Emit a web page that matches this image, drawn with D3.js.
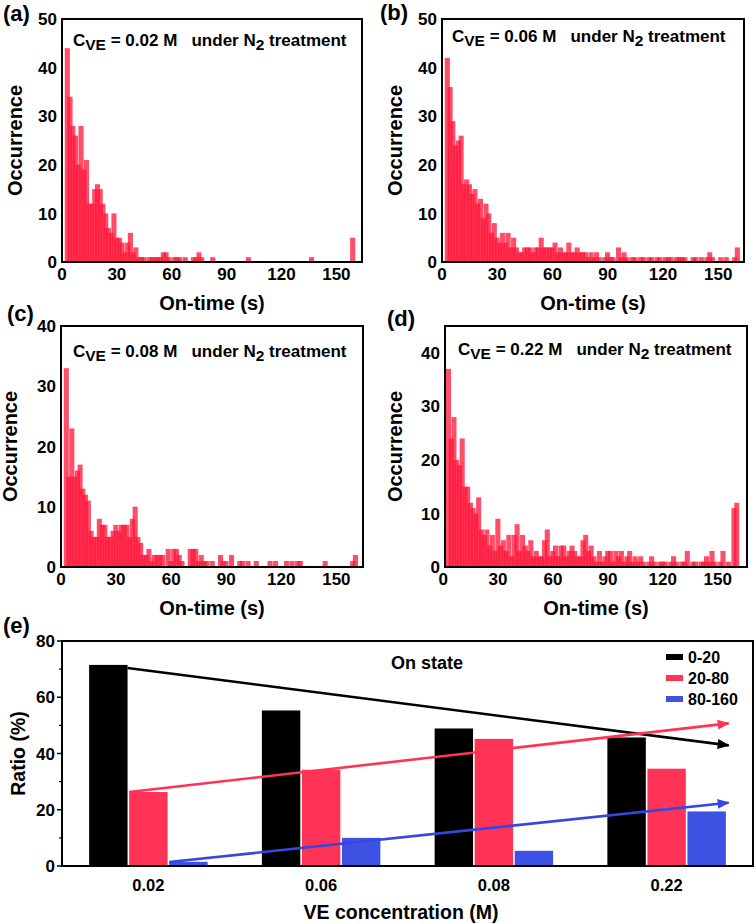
<!DOCTYPE html>
<html><head><meta charset="utf-8">
<script src="https://cdn.jsdelivr.net/npm/d3@7/dist/d3.min.js"></script>
<style>
body{margin:0;background:#fff}
svg text{font-family:"Liberation Sans",Arial,sans-serif;font-weight:bold;fill:#000}
</style></head><body>
<svg id="chart" width="756" height="924"></svg>
<script>
// ---------- DATA ----------
const binStart = 1.5, binWidth = 1.5;   // on-time bins (s)
const countsA = [44,34,28,26,20,28,19,21,12,12, 15,16,15,12,10,7,6,10,5,5, 4,2,4,6,2,3,1,1,1,0,
  1,1,1,1,1,2,2,1,0,1, 1,1,0,1,0,0,1,1,2,1, 0,0,0,1,0,0,0,0,0,0, 0,0,0,0,0,0,1,0,0,0,
  0,0,0,0,0,0,0,0,0,0, 0,0,0,0,0,0,0,0,0,1, 0,0,0,0,0,0,0,0,0,0, 0,0,0,0,5,0];
const countsB = [42,36,29,24,25,26,16,17,16,14, 15,12,13,9,12,10,6,8,5,4, 6,4,6,3,5,3,2,2,3,3,
  3,2,3,3,5,3,3,3,3,4, 2,3,2,2,4,2,2,3,2,2, 2,1,2,1,2,1,0,1,2,1, 1,0,3,1,2,1,0,1,1,0,
  1,1,0,1,1,0,1,1,0,1, 1,1,0,1,1,1,1,0,0,1, 1,0,1,0,1,2,1,0,0,1, 0,1,0,0,1,3];
const countsC = [33,15,23,15,16,17,13,12,11,6, 5,5,8,7,7,5,5,6,7,6, 7,7,7,5,8,10,5,4,2,2,
  3,1,2,2,2,2,0,3,1,3, 3,2,1,0,0,3,3,3,1,2, 1,1,0,1,0,0,2,1,1,0, 2,0,0,1,1,0,1,0,0,1,
  0,0,0,0,1,0,1,0,0,0, 1,0,1,0,1,1,0,0,0,0, 0,0,0,0,1,0,0,0,0,0, 0,0,0,0,1,2];
const countsD = [37,24,28,20,19,24,15,15,12,11, 10,13,7,6,7,4,6,3,9,4, 5,3,6,2,6,8,3,6,4,3,
  5,2,3,2,2,5,7,2,3,4, 2,4,4,2,3,4,3,2,2,5, 6,3,4,2,1,3,1,2,3,3, 1,3,2,3,1,2,3,1,2,1,
  2,1,0,1,2,1,0,1,1,1, 0,1,2,1,0,1,1,3,0,1, 1,0,1,1,2,1,3,1,0,1, 3,0,1,0,11,12];
const panelLetters = ["(a)","(b)","(c)","(d)"];
const concLabels = ["0.02","0.06","0.08","0.22"];
const onTimeTicks = [0,30,60,90,120,150];
const occTicksAB = [0,10,20,30,40,50];
const occTicksCD = [0,10,20,30,40];
const occMax = [50,50,40,45];

const rangeNames = ["0-20","20-80","80-160"];
const ratio0_20 = [71.5,55.3,48.9,45.7];
const ratio20_80 = [26.3,34.2,45.2,34.6];
const ratio80_160 = [1.5,10.0,5.4,19.4];
const trendStart = [70.4,26.3,1.4];
const trendEnd = [42.9,50.7,22.5];
const ratioTicks = [0,20,40,60,80];
const ratioMinor = [10,30,50,70];

// ---------- LAYOUT ----------
const svg = d3.select("#chart");
const panels = [
  {counts:countsA, conc:0, ticks:occTicksAB, xDom:[0,164], l:62, r:362, t:19, b:262, lx:3, ly:21, hx:73, hy:46, ox:22},
  {counts:countsB, conc:1, ticks:occTicksAB, xDom:[0,164], l:442, r:744, t:19, b:262, lx:380, ly:20, hx:452, hy:42, ox:402},
  {counts:countsC, conc:2, ticks:occTicksCD, xDom:[0,164.5], l:61, r:363, t:326, b:567, lx:7, ly:321, hx:73, hy:357, ox:17},
  {counts:countsD, conc:3, ticks:occTicksCD, xDom:[1,166], l:445, r:747, t:326, b:567, lx:387, ly:326, hx:458, hy:355, ox:402}
];

panels.forEach((p,pi)=>{
  const x = d3.scaleLinear().domain(p.xDom).range([p.l,p.r]);
  const y = d3.scaleLinear().domain([0,occMax[pi]]).range([p.b,p.t]);
  const g = svg.append("g");
  const cid = "clip"+pi;
  g.append("clipPath").attr("id",cid).append("rect")
    .attr("x",p.l).attr("y",p.t).attr("width",p.r-p.l).attr("height",p.b-p.t);
  const bins = p.counts.map((v,i)=>({v,i})).filter(d=>d.v>0);
  g.append("g").attr("clip-path",`url(#${cid})`)
    .selectAll("rect").data(bins).join("rect")
    .attr("x",d=>x(binStart+d.i*binWidth))
    .attr("width",d=>x(binStart+(d.i+1.85)*binWidth)-x(binStart+d.i*binWidth))
    .attr("y",d=>y(d.v))
    .attr("height",d=>y(0)-y(d.v))
    .attr("fill","#ff1034").attr("fill-opacity",0.74);
  g.append("rect").attr("x",p.l).attr("y",p.t).attr("width",p.r-p.l).attr("height",p.b-p.t)
    .attr("fill","none").attr("stroke","#000").attr("stroke-width",2);
  g.selectAll(".yt").data(p.ticks).join("text")
    .attr("x",p.l-5).attr("y",d=>y(d)).attr("dy","0.36em")
    .attr("text-anchor","end").attr("font-size",17).text(d=>d);
  g.selectAll(".xt").data(onTimeTicks).join("text")
    .attr("x",d=>x(d)).attr("y",p.b+18).attr("text-anchor","middle")
    .attr("font-size",17).text(d=>d);
  g.append("text").attr("x",(p.l+p.r)/2).attr("y",p.b+48).attr("text-anchor","middle")
    .attr("font-size",20).text("On-time (s)");
  g.append("text").attr("transform",`translate(${p.ox},${(p.t+p.b)/2}) rotate(-90)`)
    .attr("text-anchor","middle").attr("font-size",20).text("Occurrence");
  g.append("text").attr("x",p.lx).attr("y",p.ly).attr("font-size",22).text(panelLetters[pi]);
  const h = g.append("text").attr("x",p.hx).attr("y",p.hy).attr("font-size",17)
    .style("white-space","pre");
  h.append("tspan").text("C");
  h.append("tspan").attr("dy",4).attr("font-size",15.5).text("VE");
  h.append("tspan").attr("dy",-4).text(` = ${concLabels[p.conc]} M   under N`);
  h.append("tspan").attr("dy",4).attr("font-size",15.5).text("2");
  h.append("tspan").attr("dy",-4).text(" treatment");
});

// ---------- PANEL (e) ----------
const E = {l:62, r:753, t:641, b:866};
const xb = d3.scaleBand().domain(concLabels).range([E.l,E.r]);
const xs = d3.scaleBand().domain(rangeNames).range([-59.25,59.25]).paddingInner(0.04);
const ye = d3.scaleLinear().domain([0,80]).range([E.b,E.t]);
const series = [ratio0_20, ratio20_80, ratio80_160];
const barColors = ["#000000","#ff3355","#3d52e3"];
const lineColors = ["#000000","#ff3355","#3447e3"];
const ge = svg.append("g");
series.forEach((vals,k)=>{
  ge.append("g").selectAll("rect").data(vals).join("rect")
    .attr("x",(d,i)=>xb(concLabels[i])+xb.bandwidth()/2+xs(rangeNames[k]))
    .attr("width",xs.bandwidth())
    .attr("y",d=>ye(d)).attr("height",d=>ye(0)-ye(d))
    .attr("fill",barColors[k]);
});
ge.append("rect").attr("x",E.l).attr("y",E.t).attr("width",E.r-E.l).attr("height",E.b-E.t)
  .attr("fill","none").attr("stroke","#000").attr("stroke-width",2);
const defs = svg.append("defs");
lineColors.forEach((c,k)=>{
  defs.append("marker").attr("id","arr"+k).attr("markerUnits","userSpaceOnUse")
    .attr("viewBox","0 0 12 10").attr("refX",11).attr("refY",5)
    .attr("markerWidth",13).attr("markerHeight",10).attr("orient","auto")
    .append("path").attr("d","M0,0 L12,5 L0,10 Z").attr("fill",c);
});
const endX = xb(concLabels[3]) + xb.bandwidth()/2 + xs.step()*1.55;
series.forEach((vals,k)=>{
  const c0 = xb(concLabels[0]) + xb.bandwidth()/2 + xs(rangeNames[k]);
  const sx = k===0 ? c0 + xs.bandwidth() : c0;
  ge.append("path").datum([[sx,trendStart[k]],[endX,trendEnd[k]]])
    .attr("d",d3.line().x(d=>d[0]).y(d=>ye(d[1])))
    .attr("stroke",lineColors[k]).attr("stroke-width",2.6).attr("fill","none")
    .attr("marker-end",`url(#arr${k})`);
});
ge.selectAll(".tk").data(ratioTicks).join("line")
  .attr("x1",E.l-5).attr("x2",E.l).attr("y1",d=>ye(d)).attr("y2",d=>ye(d))
  .attr("stroke","#000").attr("stroke-width",1.5);
ge.selectAll(".mk").data(ratioMinor).join("line")
  .attr("x1",E.l-3).attr("x2",E.l).attr("y1",d=>ye(d)).attr("y2",d=>ye(d))
  .attr("stroke","#000").attr("stroke-width",1.2);
ge.selectAll(".ytl").data(ratioTicks).join("text")
  .attr("x",E.l-7).attr("y",d=>ye(d)).attr("dy","0.36em").attr("text-anchor","end")
  .attr("font-size",17).text(d=>d);
ge.selectAll(".xtl").data(concLabels).join("text")
  .attr("x",d=>xb(d)+xb.bandwidth()/2).attr("y",E.b+25).attr("text-anchor","middle")
  .attr("font-size",16.5).text(d=>d);
ge.append("text").attr("x",401).attr("y",E.b+53).attr("text-anchor","middle")
  .attr("font-size",19.5).text("VE concentration (M)");
ge.append("text").attr("transform",`translate(25,${(E.t+E.b)/2}) rotate(-90)`)
  .attr("text-anchor","middle").attr("font-size",19.5).text("Ratio (%)");
ge.append("text").attr("x",3).attr("y",633).attr("font-size",22).text("(e)");
ge.append("text").attr("x",391).attr("y",669).attr("font-size",18).text("On state");
const lg = ge.append("g");
rangeNames.forEach((n,k)=>{
  const cy = 657 + k*21;
  lg.append("rect").attr("x",666).attr("y",cy-3).attr("width",17).attr("height",6).attr("fill",barColors[k]);
  lg.append("text").attr("x",688).attr("y",cy+6).attr("font-size",16).text(n);
});
</script></body></html>
